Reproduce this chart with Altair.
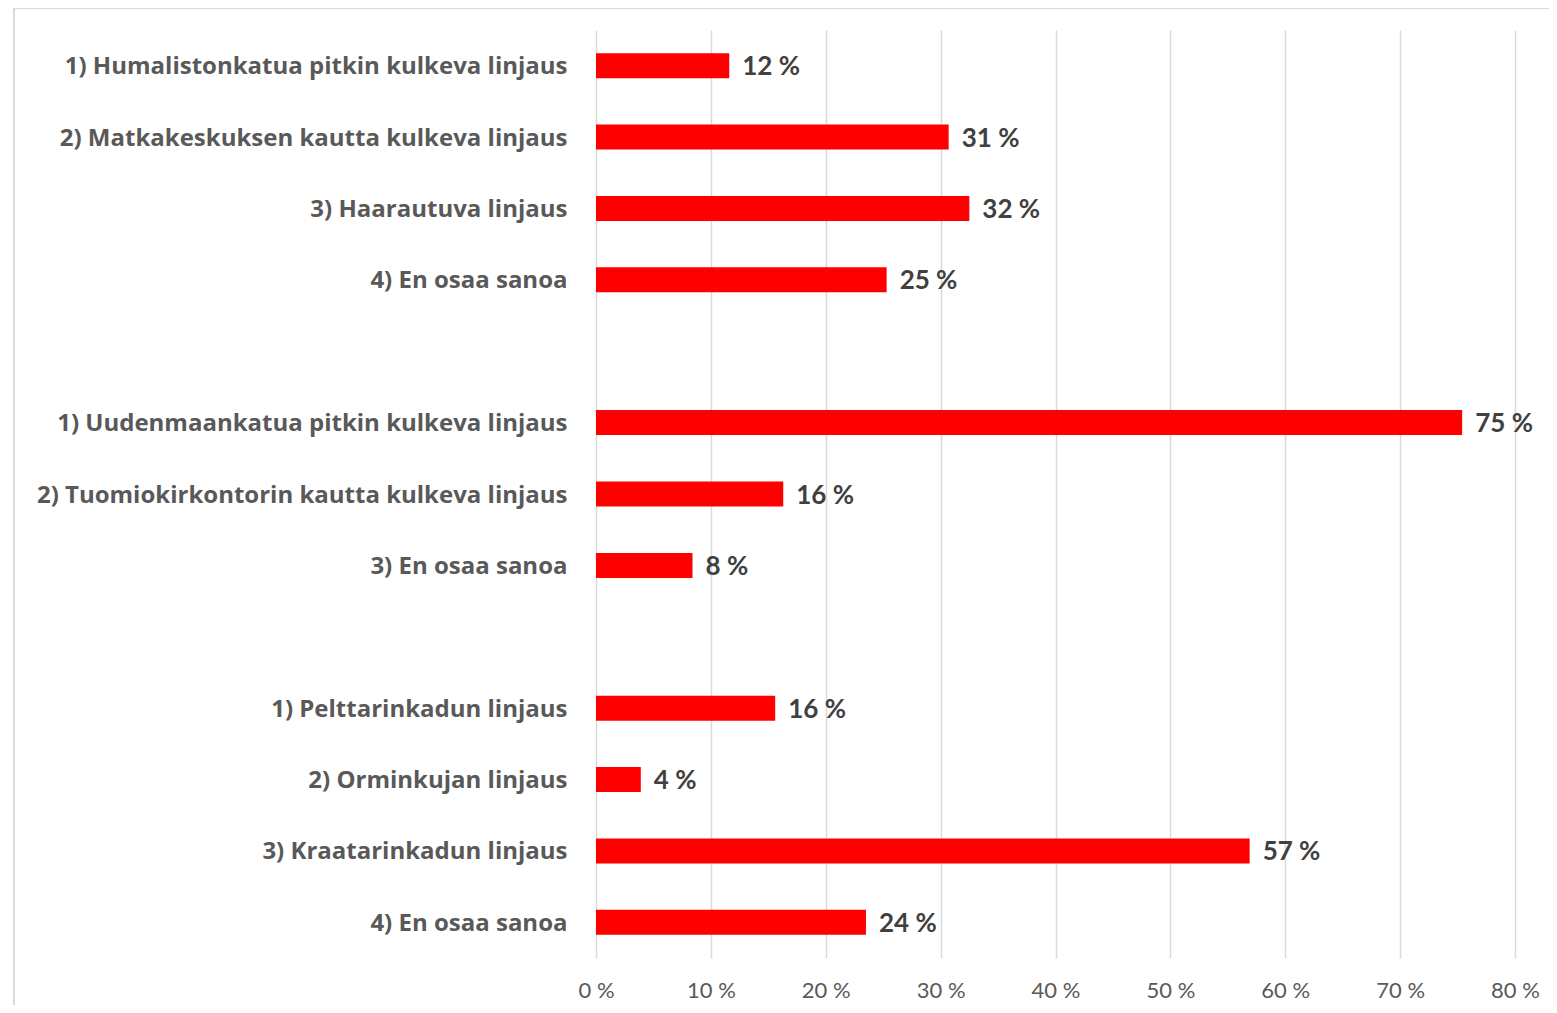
import json
import altair as alt
import pandas as pd

# Row labels (blank rows are the gaps between question groups)
labels = [
    "1) Humalistonkatua pitkin kulkeva linjaus",
    "2) Matkakeskuksen kautta kulkeva linjaus",
    "3) Haarautuva linjaus",
    "4) En osaa sanoa",
    "",
    "1) Uudenmaankatua pitkin kulkeva linjaus",
    "2) Tuomiokirkontorin kautta kulkeva linjaus",
    "3) En osaa sanoa",
    "",
    "1) Pelttarinkadun linjaus",
    "2) Orminkujan linjaus",
    "3) Kraatarinkadun linjaus",
    "4) En osaa sanoa",
]
values = [11.6, 30.7, 32.5, 25.3, None, 75.4, 16.3, 8.4, None, 15.6, 3.9, 56.9, 23.5]
value_labels = ["12 %", "31 %", "32 %", "25 %", "", "75 %", "16 %", "8 %", "", "16 %", "4 %", "57 %", "24 %"]
x_ticks = [0, 10, 20, 30, 40, 50, 60, 70, 80]

rows = [
    {"row": i, "value": v, "label": t}
    for i, (v, t) in enumerate(zip(values, value_labels))
    if v is not None
]
df = pd.DataFrame(rows)

label_expr = "[" + ",".join(json.dumps(l) for l in labels) + "][datum.value]"

W, H = 919, 928
FONT = "Lato"
CAT_FONT = "Open Sans"

y_enc = alt.Y(
    "row:O",
    scale=alt.Scale(domain=list(range(len(labels))), paddingInner=0.65, paddingOuter=0.325),
    axis=alt.Axis(
        title=None, labelExpr=label_expr, labelFont=CAT_FONT, labelFontWeight="bold",
        labelFontSize=24, labelColor="#595959", labelPadding=29, ticks=False,
        domain=False, grid=False, labelLimit=0, labelOffset=1.5,
    ),
)
x_enc = alt.X(
    "value:Q",
    scale=alt.Scale(domain=[0, 80], nice=False),
    axis=alt.Axis(
        values=x_ticks, labelExpr="datum.value + ' %'", title=None, grid=True,
        gridColor="#d9d9d9", gridWidth=1.5, domain=False, ticks=False,
        labelFont=FONT, labelFontSize=22, labelColor="#595959", labelPadding=22,
        labelFlush=False,
    ),
)

base = alt.Chart(df)
bars = base.mark_bar(color="#ff0000").encode(x=x_enc, y=y_enc)
texts = base.mark_text(
    align="left", baseline="middle", dx=13, dy=1.5, font=FONT, fontWeight="bold",
    fontSize=26, color="#404040",
).encode(x="value:Q", y="row:O", text="label:N")

frame_data = alt.Data(values=[{"k": 1}])
frame_top = alt.Chart(frame_data).mark_rule(color="#d9d9d9", strokeWidth=2).encode(
    x=alt.value(-582), x2=alt.value(W + 60), y=alt.value(-22)
)
frame_left = alt.Chart(frame_data).mark_rule(color="#d9d9d9", strokeWidth=2).encode(
    x=alt.value(-582), y=alt.value(-22), y2=alt.value(H + 80)
)

chart = alt.layer(frame_top, frame_left, bars, texts).properties(
    width=W, height=H,
    padding={"left": 588, "top": 22, "right": 34, "bottom": 47},
    autosize=alt.AutoSizeParams(type="none"),
).configure_view(stroke=None)

chart.save("out.html", embed_options={"renderer": "svg", "actions": False})
